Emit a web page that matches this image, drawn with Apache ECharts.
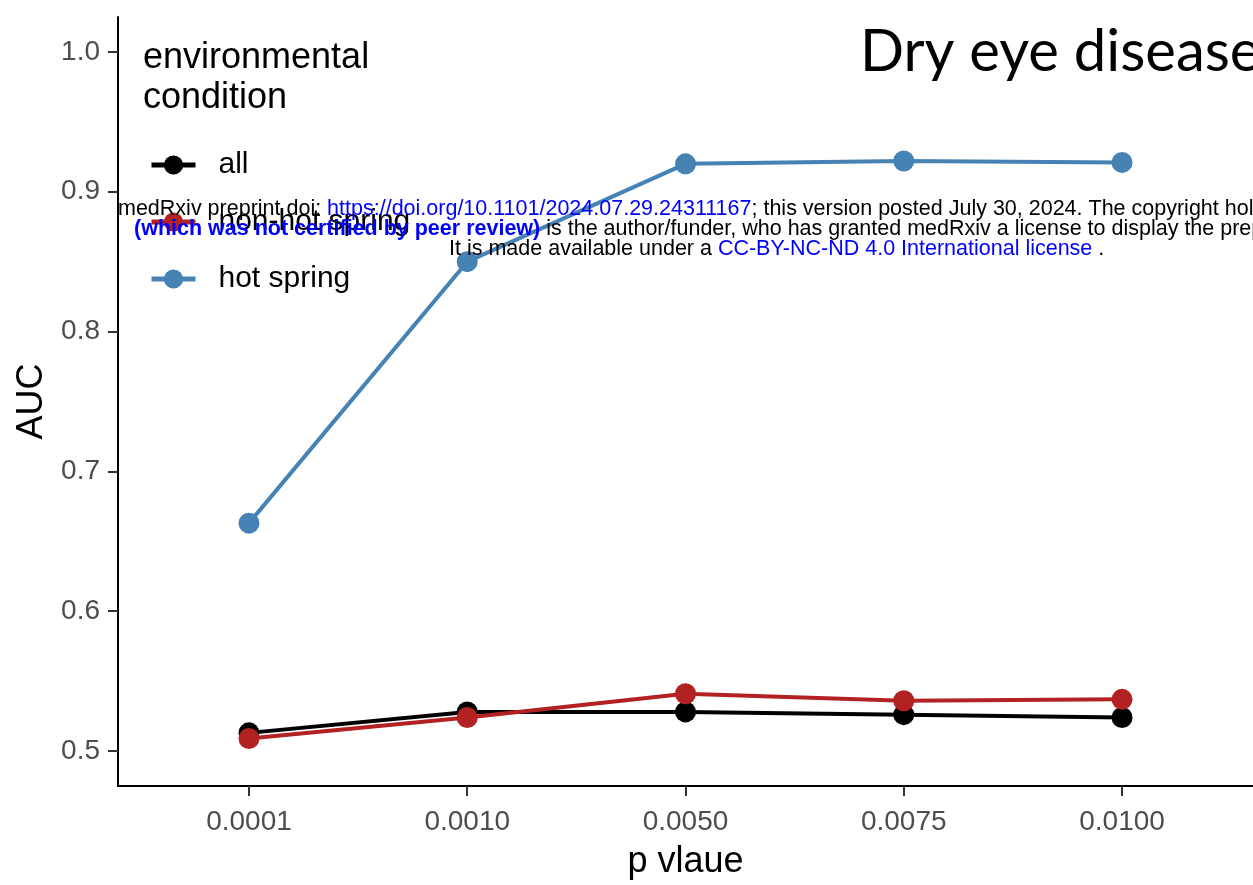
<!DOCTYPE html>
<html>
<head>
<meta charset="utf-8">
<script src="https://cdn.jsdelivr.net/npm/echarts@6/dist/echarts.min.js"></script>
<style>
html,body{margin:0;padding:0;background:#fff;}
#main{width:1253px;height:885px;}
</style>
</head>
<body>
<div id="main"></div>
<script>
const categories = ['0.0001', '0.0010', '0.0050', '0.0075', '0.0100'];
const allValues = [0.513, 0.528, 0.528, 0.526, 0.524];
const nonHotSpringValues = [0.509, 0.524, 0.541, 0.536, 0.537];
const hotSpringValues = [0.663, 0.850, 0.920, 0.922, 0.921];
const yTicks = [0.5, 0.6, 0.7, 0.8, 0.9, 1.0];
const xTicks = [0, 1, 2, 3, 4];

const FONT = "'Liberation Sans', Arial, sans-serif";

function pairs(vals) { return vals.map((v, i) => [i, v]); }

const chart = echarts.init(document.getElementById('main'), null, {renderer: 'canvas'});

const seriesDefs = [
  {name: 'all', data: allValues, color: '#000000'},
  {name: 'non-hot spring', data: nonHotSpringValues, color: '#B22222'},
  {name: 'hot spring', data: hotSpringValues, color: '#4682B4'}
];

chart.setOption({
  backgroundColor: '#ffffff',
  animation: false,
  grid: {left: 118, top: 17, width: 1137, height: 770, containLabel: false},
  xAxis: {
    type: 'value', min: -0.6, max: 4.6,
    axisLine: {show: true, onZero: false, lineStyle: {color: '#000', width: 2}},
    axisTick: {show: true, length: 10, customValues: xTicks, lineStyle: {color: '#333', width: 2}},
    axisLabel: {show: true, customValues: xTicks, margin: 22, fontSize: 28, color: '#4d4d4d', fontFamily: FONT,
      formatter: v => categories[Math.round(v)]},
    splitLine: {show: false},
    name: 'p vlaue', nameLocation: 'middle', nameGap: 58,
    nameTextStyle: {fontSize: 36, color: '#000', fontFamily: FONT}
  },
  yAxis: {
    type: 'value', min: 0.475, max: 1.025,
    axisLine: {show: true, onZero: false, lineStyle: {color: '#000', width: 2}},
    axisTick: {show: true, length: 10, customValues: yTicks, lineStyle: {color: '#333', width: 2}},
    axisLabel: {show: true, customValues: yTicks, margin: 18, fontSize: 28, color: '#4d4d4d', fontFamily: FONT,
      formatter: v => v.toFixed(1)},
    splitLine: {show: false},
    name: 'AUC', nameLocation: 'middle', nameGap: 67, nameRotate: 90,
    nameTextStyle: {fontSize: 36, color: '#000', fontFamily: FONT}
  },
  legend: {
    orient: 'vertical', left: 144, top: 145,
    itemWidth: 44, itemHeight: 24, itemGap: 27,
    lineStyle: {width: 5},
    textStyle: {fontSize: 30, color: '#000', fontFamily: FONT, lineHeight: 30, padding: [0, 0, 0, 18]},
    data: seriesDefs.map(s => s.name)
  },
  series: seriesDefs.map(s => ({
    name: s.name, type: 'line', data: pairs(s.data),
    symbol: 'circle', symbolSize: 21,
    lineStyle: {color: s.color, width: 4},
    itemStyle: {color: s.color},
    clip: false
  })),
  graphic: [
    {type: 'text', x: 143, y: 38, z: 10, style: {text: 'environmental\ncondition', fontSize: 36, fontFamily: FONT, fill: '#000', lineHeight: 40}},
    {type: 'text', x: 860, y: 52, z: 10, style: {text: 'Dry eye disease', fontSize: 58, fontFamily: "Lato, 'Open Sans', sans-serif", fill: '#000', verticalAlign: 'middle'}},
    {type: 'text', x: 118, y: 209, z: 100, style: {
      text: '{b|medRxiv preprint doi: }{u|https://doi.org/10.1101/2024.07.29.24311167}{b|; this version posted July 30, 2024. The copyright holder for this preprint}',
      verticalAlign: 'middle',
      rich: {b: {fontSize: 21.5, fontFamily: FONT, fill: '#000'}, u: {fontSize: 21.5, fontFamily: FONT, fill: '#0000FF'}}
    }},
    {type: 'text', x: 134, y: 229, z: 100, style: {
      text: '{ub|(which was not certified by peer review)}{b| is the author/funder, who has granted medRxiv a license to display the preprint in perpetuity.}',
      verticalAlign: 'middle',
      rich: {b: {fontSize: 21.5, fontFamily: FONT, fill: '#000'}, ub: {fontSize: 21.5, fontFamily: FONT, fontWeight: 'bold', fill: '#0000FF'}}
    }},
    {type: 'text', x: 449, y: 249, z: 100, style: {
      text: '{b|It is made available under a }{u|CC-BY-NC-ND 4.0 International license}{b| .}',
      verticalAlign: 'middle',
      rich: {b: {fontSize: 21.5, fontFamily: FONT, fill: '#000'}, u: {fontSize: 21.5, fontFamily: FONT, fill: '#0000FF'}}
    }}
  ]
});
</script>
</body>
</html>
